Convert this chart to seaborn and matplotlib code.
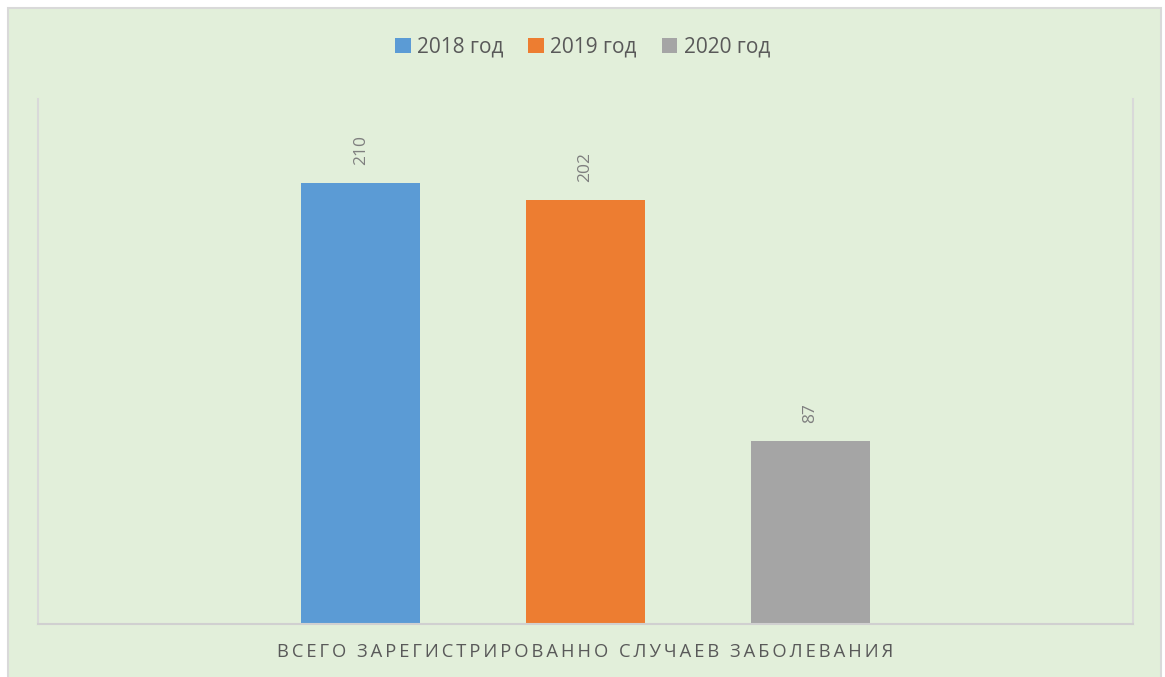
import numpy as np
import pandas as pd
import matplotlib
matplotlib.use('Agg')
import matplotlib.pyplot as plt
from matplotlib.patches import Rectangle
import seaborn as sns

# Data
category = 'ВСЕГО ЗАРЕГИСТРИРОВАННО СЛУЧАЕВ ЗАБОЛЕВАНИЯ'
years = ['2018 год', '2019 год', '2020 год']
values = [210, 202, 87]
colors = ['#5B9BD5', '#ED7D31', '#A5A5A5']

df = pd.DataFrame({'cat': [category] * len(years), 'year': years, 'value': values})

sns.set_style('white')
plt.rcParams['font.family'] = ['Open Sans', 'DejaVu Sans']

bg = '#E2EFDA'
text_col = '#595959'
fig = plt.figure(figsize=(11.65, 6.77), dpi=100)
fig.patch.set_facecolor('white')
# green chart area with a thin grey frame
fig.patches.append(Rectangle((8 / 1165, -0.05), 1153 / 1165, 1.05 - 8 / 677,
                             transform=fig.transFigure, facecolor=bg,
                             edgecolor='#D9D9D9', linewidth=1.5, zorder=-1))

ax = fig.add_axes([38 / 1165, 53 / 677, 1095 / 1165, 525 / 677])
ax.set_facecolor(bg)

sns.barplot(data=df, x='cat', y='value', hue='year', palette=colors,
            width=0.616, gap=0.47, ax=ax, saturation=1, linewidth=0)

for cont in ax.containers:
    ax.bar_label(cont, rotation=90, padding=13, color='#7F7F7F', fontsize=12.5)

ax.set_ylim(0, 250)
ax.set_xlim(-0.5, 0.5)
ax.set_yticks([])
ax.set_xlabel('')
ax.set_ylabel('')
ax.tick_params(axis='x', length=0, pad=14)
# letter-spaced category label
spaced = '\u2009'.join(category)
ax.set_xticks([0])
ax.set_xticklabels([spaced], fontsize=13.2, color=text_col)

for side in ['left', 'right']:
    ax.spines[side].set_color('#D9D9D9')
    ax.spines[side].set_linewidth(1.5)
ax.spines['bottom'].set_color('#D0D0D0')
ax.spines['bottom'].set_linewidth(1.5)
ax.spines['top'].set_visible(False)

sns.move_legend(ax, 'center', bbox_to_anchor=(0.5, 1 - 47 / 677),
                bbox_transform=fig.transFigure, ncol=3, frameon=False,
                title=None, fontsize=15, handlelength=0.75, handleheight=0.75,
                handletextpad=0.3, columnspacing=1.2, labelcolor=text_col)

fig.savefig('out.png', dpi=100, facecolor=fig.get_facecolor())
